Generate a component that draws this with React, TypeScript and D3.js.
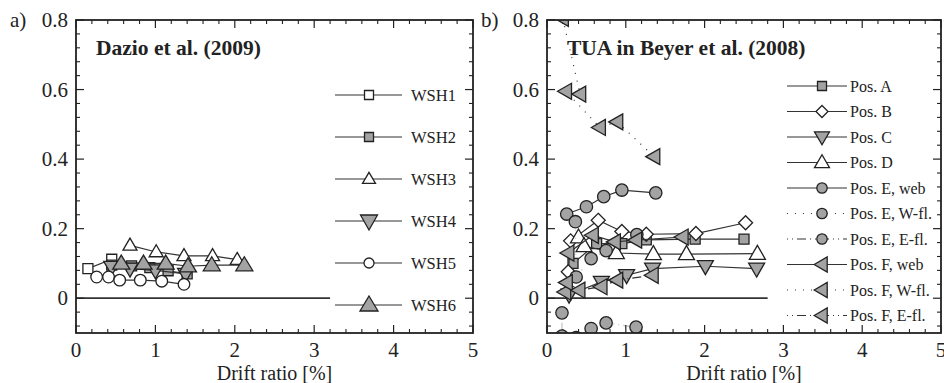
import React from 'react';
import * as d3 from 'd3';

// ---------- Data (drift ratio [%], value) ----------
const wsh1 = [[0.15, 0.085], [0.45, 0.112]];
const wsh2 = [[0.45, 0.095], [0.7, 0.093], [0.93, 0.088], [1.16, 0.079], [1.4, 0.07]];
const wsh3 = [[0.68, 0.152], [1.01, 0.133], [1.36, 0.122], [1.72, 0.122], [2.03, 0.111]];
const wsh4 = [[0.45, 0.09], [0.68, 0.085], [1.0, 0.08], [1.38, 0.07]];
const wsh5 = [[0.26, 0.061], [0.41, 0.061], [0.55, 0.052], [0.81, 0.052], [1.08, 0.049], [1.36, 0.04]];
const wsh6 = [[0.57, 0.1], [0.85, 0.1], [1.13, 0.1], [1.41, 0.092], [1.71, 0.095], [2.12, 0.095]];

const posA = [[0.33, 0.1], [0.63, 0.157], [0.95, 0.157], [1.26, 0.168], [1.88, 0.17], [2.5, 0.17]];
const posB = [[0.27, 0.076], [0.3, 0.165], [0.65, 0.224], [0.95, 0.192], [1.26, 0.184], [1.89, 0.186], [2.52, 0.217]];
const posC = [[0.28, 0.01], [0.69, 0.047], [1.01, 0.066], [1.34, 0.085], [2.01, 0.092], [2.66, 0.085]];
const posD = [[0.4, 0.175], [0.47, 0.15], [0.88, 0.13], [1.35, 0.127], [1.77, 0.127], [2.67, 0.128]];
const posEweb = [[0.25, 0.242], [0.5, 0.263], [0.72, 0.292], [0.95, 0.311], [1.38, 0.303]];
const posEWfl = [[0.36, 0.22], [0.37, 0.061], [0.56, 0.114], [0.75, 0.137], [1.14, 0.183]];
const posEEfl = [[0.19, -0.042], [0.19, -0.109], [0.25, -0.145], [0.37, -0.113], [0.56, -0.087], [0.75, -0.071], [1.13, -0.083]];
const posFweb = [[0.27, 0.13], [0.58, 0.181], [0.86, 0.162], [1.13, 0.167], [1.72, 0.176]];
const posFWfl = [[0.2, 0.805], [0.42, 0.587], [0.24, 0.595], [0.67, 0.491], [0.89, 0.507], [1.36, 0.407]];
const posFEfl = [[0.23, 0.018], [0.25, 0.045], [0.41, 0.023], [0.69, 0.033], [0.89, 0.052], [1.34, 0.066]];

const xTickLabels = ['0', '1', '2', '3', '4', '5'];
const yTickValues = [0, 0.2, 0.4, 0.6, 0.8];
const yTickLabels = ['0', '0.2', '0.4', '0.6', '0.8'];

const GRAY = '#a3a3a3';
const INK = '#222';
const FONT = '"Liberation Serif", "DejaVu Serif", serif';

type Shape = 'square' | 'diamond' | 'circle' | 'up' | 'down' | 'left';

function markerPath(shape: Shape, s: number, t: number): string {
  const p = d3.path();
  if (shape === 'square') {
    p.rect(-s / 2, -s / 2, s, s);
  } else if (shape === 'diamond') {
    p.moveTo(0, -t); p.lineTo(s, 0); p.lineTo(0, t); p.lineTo(-s, 0); p.closePath();
  } else if (shape === 'up') {
    p.moveTo(0, -t * 0.6); p.lineTo(s / 2, t * 0.4); p.lineTo(-s / 2, t * 0.4); p.closePath();
  } else if (shape === 'down') {
    p.moveTo(0, t * 0.6); p.lineTo(s / 2, -t * 0.4); p.lineTo(-s / 2, -t * 0.4); p.closePath();
  } else if (shape === 'left') {
    p.moveTo(-s * 0.6, 0); p.lineTo(s * 0.4, -t / 2); p.lineTo(s * 0.4, t / 2); p.closePath();
  }
  return p.toString();
}

function Marker({ shape, x, y, s, t, fill }: { shape: Shape; x: number; y: number; s: number; t: number; fill: string }) {
  if (shape === 'circle') {
    return <circle cx={x} cy={y} r={s} fill={fill} stroke={INK} strokeWidth={1.3} />;
  }
  return <path d={markerPath(shape, s, t)} transform={`translate(${x},${y})`} fill={fill} stroke={INK} strokeWidth={1.3} strokeLinejoin="miter" />;
}

type Series = {
  data: number[][];
  shape: Shape;
  fill: string;
  s: number;
  t: number;
  dash?: string;
  noLine?: boolean;
  ls: number;
  lt: number;
  label: string;
};

const leftSeries: Series[] = [
  { data: wsh1, shape: 'square', fill: '#fff', s: 10, t: 10, ls: 9, lt: 9, label: 'WSH1' },
  { data: wsh2, shape: 'square', fill: GRAY, s: 10, t: 10, ls: 9, lt: 9, label: 'WSH2' },
  { data: wsh3, shape: 'up', fill: '#fff', s: 14, t: 12, ls: 13, lt: 11, label: 'WSH3' },
  { data: wsh4, shape: 'down', fill: GRAY, s: 16, t: 14, ls: 17, lt: 15, label: 'WSH4' },
  { data: wsh5, shape: 'circle', fill: '#fff', s: 5.8, t: 0, ls: 5, lt: 0, label: 'WSH5' },
  { data: wsh6, shape: 'up', fill: GRAY, s: 17, t: 14, ls: 18, lt: 15, label: 'WSH6' },
];

const DOT = '1,7';
const DASHDOT = '1,4,1,4,9,4';

const rightSeries: Series[] = [
  { data: posA, shape: 'square', fill: GRAY, s: 10, t: 10, ls: 9, lt: 9, label: 'Pos. A' },
  { data: posB, shape: 'diamond', fill: '#fff', s: 7, t: 7, ls: 6, lt: 6, label: 'Pos. B' },
  { data: posC, shape: 'down', fill: GRAY, s: 16, t: 14, ls: 15, lt: 13, label: 'Pos. C' },
  { data: posD, shape: 'up', fill: '#fff', s: 16, t: 14, ls: 15, lt: 13, label: 'Pos. D' },
  { data: posEweb, shape: 'circle', fill: GRAY, s: 6.2, t: 0, ls: 5.2, lt: 0, label: 'Pos. E, web' },
  { data: posEWfl, shape: 'circle', fill: GRAY, s: 6.2, t: 0, ls: 5.2, lt: 0, dash: DOT, noLine: true, label: 'Pos. E, W-fl.' },
  { data: posEEfl, shape: 'circle', fill: GRAY, s: 6.2, t: 0, ls: 5.2, lt: 0, dash: DASHDOT, noLine: true, label: 'Pos. E, E-fl.' },
  { data: posFweb, shape: 'left', fill: GRAY, s: 14, t: 16, ls: 13, lt: 15, label: 'Pos. F, web' },
  { data: posFWfl, shape: 'left', fill: GRAY, s: 14, t: 16, ls: 13, lt: 15, dash: DOT, label: 'Pos. F, W-fl.' },
  { data: posFEfl, shape: 'left', fill: GRAY, s: 14, t: 16, ls: 13, lt: 15, dash: DASHDOT, label: 'Pos. F, E-fl.' },
];

const TOP = 20;
const BOTTOM = 333;

function Panel({ id, x0, x1, title, tag, series, zeroEnd, legend }: {
  id: string; x0: number; x1: number; title: string; tag: string; series: Series[]; zeroEnd: number;
  legend: { lx0: number; lx1: number; mx: number; tx: number; y0: number; dy: number; fs: number };
}) {
  const x = d3.scaleLinear().domain([0, 5]).range([x0, x1]);
  const y = d3.scaleLinear().domain([-0.1, 0.8]).range([BOTTOM, TOP]);
  const line = d3.line<number[]>().x(d => x(d[0])).y(d => y(d[1]));
  const xMajor = d3.range(0, 5.001, 1);
  const xMinor = d3.range(0, 5.001, 0.2).filter(v => Math.abs(v - Math.round(v)) > 1e-6);
  const yMinor = d3.range(-0.08, 0.8, 0.04).filter(v => Math.abs(v / 0.2 - Math.round(v / 0.2)) > 1e-6);
  const MJ = 8, MN = 4;
  return (
    <g>
      <defs>
        <clipPath id={`clip-${id}`}>
          <rect x={x0} y={TOP} width={x1 - x0} height={BOTTOM - TOP} />
        </clipPath>
      </defs>
      <line x1={x(0)} x2={x(zeroEnd)} y1={y(0)} y2={y(0)} stroke="#333" strokeWidth={1.8} />
      {xMajor.map(v => (
        <g key={'xM' + v}>
          <line x1={x(v)} x2={x(v)} y1={BOTTOM} y2={BOTTOM - MJ} stroke={INK} strokeWidth={1.2} />
          <line x1={x(v)} x2={x(v)} y1={TOP} y2={TOP + MJ} stroke={INK} strokeWidth={1.2} />
          <text x={x(v)} y={BOTTOM + 24} textAnchor="middle" fontFamily={FONT} fontSize={21} fill="#222">{xTickLabels[v]}</text>
        </g>
      ))}
      {xMinor.map(v => (
        <g key={'xm' + v}>
          <line x1={x(v)} x2={x(v)} y1={BOTTOM} y2={BOTTOM - MN} stroke={INK} strokeWidth={1.1} />
          <line x1={x(v)} x2={x(v)} y1={TOP} y2={TOP + MN} stroke={INK} strokeWidth={1.1} />
        </g>
      ))}
      {yTickValues.map((v, i) => (
        <g key={'yM' + v}>
          <line x1={x0} x2={x0 + MJ} y1={y(v)} y2={y(v)} stroke={INK} strokeWidth={1.2} />
          <line x1={x1} x2={x1 - MJ} y1={y(v)} y2={y(v)} stroke={INK} strokeWidth={1.2} />
          <text x={x0 - 8} y={y(v) + 7} textAnchor="end" fontFamily={FONT} fontSize={21} fill="#222">{yTickLabels[i]}</text>
        </g>
      ))}
      {yMinor.map(v => (
        <g key={'ym' + v}>
          <line x1={x0} x2={x0 + MN} y1={y(v)} y2={y(v)} stroke={INK} strokeWidth={1.1} />
          <line x1={x1} x2={x1 - MN} y1={y(v)} y2={y(v)} stroke={INK} strokeWidth={1.1} />
        </g>
      ))}
      <g clipPath={`url(#clip-${id})`}>
        {series.map((s, i) => (
          <g key={'s' + i}>
            <path d={line(s.data) || ''} fill="none" stroke="#333" strokeWidth={1.2}
              strokeDasharray={s.dash} opacity={s.noLine ? 0.3 : 1} />
            {s.data.map((d, j) => (
              <Marker key={j} shape={s.shape} x={x(d[0])} y={y(d[1])} s={s.s} t={s.t} fill={s.fill} />
            ))}
          </g>
        ))}
      </g>
      <rect x={x0} y={TOP} width={x1 - x0} height={BOTTOM - TOP} fill="none" stroke={INK} strokeWidth={1.8} />
      <text x={x0 + 20} y={55} fontFamily={FONT} fontWeight="bold" fontSize={21.5} fill="#222">{title}</text>
      <text x={x0 - 66} y={27} fontFamily={FONT} fontSize={21} fill="#222">{tag}</text>
      <text x={(x0 + x1) / 2} y={380} textAnchor="middle" fontFamily={FONT} fontSize={20} fill="#222">Drift ratio [%]</text>
      {series.map((s, i) => {
        const ly = legend.y0 + i * legend.dy;
        return (
          <g key={'l' + i}>
            <line x1={legend.lx0} x2={legend.lx1} y1={ly} y2={ly} stroke="#333" strokeWidth={1.2} strokeDasharray={s.dash} />
            <Marker shape={s.shape} x={legend.mx} y={ly} s={s.ls} t={s.lt} fill={s.fill} />
            <text x={legend.tx} y={ly + 5.5} fontFamily={FONT} fontSize={legend.fs} fill="#222">{s.label}</text>
          </g>
        );
      })}
    </g>
  );
}

export default function App() {
  return (
    <svg width={944} height={383} style={{ position: 'absolute', left: 0, top: 0, background: '#fff' }}>
      <rect x={0} y={0} width={944} height={383} fill="#fff" />
      <Panel id="a" x0={76} x1={473} title="Dazio et al. (2009)" tag="a)" series={leftSeries} zeroEnd={3.2}
        legend={{ lx0: 335, lx1: 402, mx: 369, tx: 411, y0: 95, dy: 42, fs: 16.5 }} />
      <Panel id="b" x0={547} x1={941} title="TUA in Beyer et al. (2008)" tag="b)" series={rightSeries} zeroEnd={2.8}
        legend={{ lx0: 787, lx1: 847, mx: 822, tx: 850, y0: 86, dy: 25.5, fs: 16 }} />
    </svg>
  );
}
